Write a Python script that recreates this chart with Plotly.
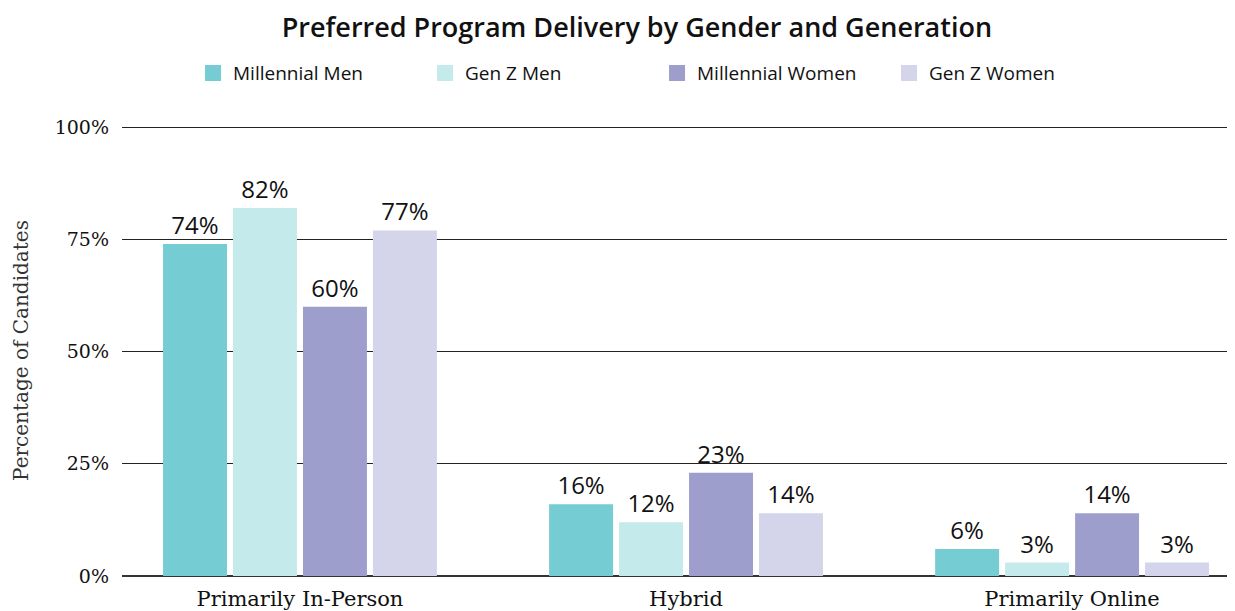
import plotly.graph_objects as go

categories = ["Primarily In-Person", "Hybrid", "Primarily Online"]
series_names = ["Millennial Men", "Gen Z Men", "Millennial Women", "Gen Z Women"]
millennial_men = [74, 16, 6]
gen_z_men = [82, 12, 3]
millennial_women = [60, 23, 14]
gen_z_women = [77, 14, 3]
y_ticks = [0, 25, 50, 75, 100]
y_tick_labels = ["0%", "25%", "50%", "75%", "100%"]

series_values = [millennial_men, gen_z_men, millennial_women, gen_z_women]
colors = ["#75CDD3", "#C5EAEB", "#9E9ECD", "#D4D4EA"]

fig = go.Figure()
for name, vals, col in zip(series_names, series_values, colors):
    fig.add_trace(go.Bar(
        name=name, x=categories, y=vals, marker_color=col, marker_line_width=0,
        text=[f"{v}%" for v in vals], textposition="outside",
        textfont=dict(family="Open Sans", size=24, color="#111111", weight=500),
        cliponaxis=False, showlegend=False,
    ))
# legend-only entries with larger square swatches
for name, col in zip(series_names, colors):
    fig.add_trace(go.Scatter(
        name=name, x=[None], y=[None], mode="markers",
        marker=dict(symbol="square", size=16, color=col), showlegend=True,
    ))

# The page body adds an 8px margin, so the figure is sized to fit the window.
fig.update_layout(
    width=1227, height=603,
    paper_bgcolor="white", plot_bgcolor="white",
    margin=dict(l=114, r=0, t=117, b=35),
    barmode="group", bargap=0.275, bargroupgap=0.086,
    title=dict(text="Preferred Program Delivery by Gender and Generation",
               x=0.5126, xref="container", xanchor="center",
               y=0.968, yref="container", yanchor="middle",
               font=dict(family="Open Sans", size=27, color="#111111", weight=600)),
    legend=dict(orientation="h", x=0.1508, xref="container", xanchor="left",
                y=0.892, yref="container", yanchor="middle",
                font=dict(family="Open Sans", size=19, color="#111111", weight=500),
                entrywidth=187, itemwidth=30, traceorder="normal", itemsizing="trace"),
    showlegend=True,
)
fig.update_xaxes(range=[-0.461, 2.422], showgrid=False, showline=False, ticks="",
                 ticklabelstandoff=8,
                 tickfont=dict(family="DejaVu Serif", size=21, color="#111111"))
fig.update_yaxes(range=[0, 100.5], tickvals=y_ticks, ticktext=y_tick_labels,
                 showgrid=True, gridcolor="#222222", gridwidth=1,
                 zeroline=True, zerolinecolor="#333333", zerolinewidth=2,
                 ticklabelstandoff=12,
                 tickfont=dict(family="DejaVu Serif", size=19, color="#111111"),
                 title=dict(text="Percentage of Candidates", standoff=20,
                            font=dict(family="DejaVu Serif", size=20, color="#333333")))

fig.write_html("out.html")
